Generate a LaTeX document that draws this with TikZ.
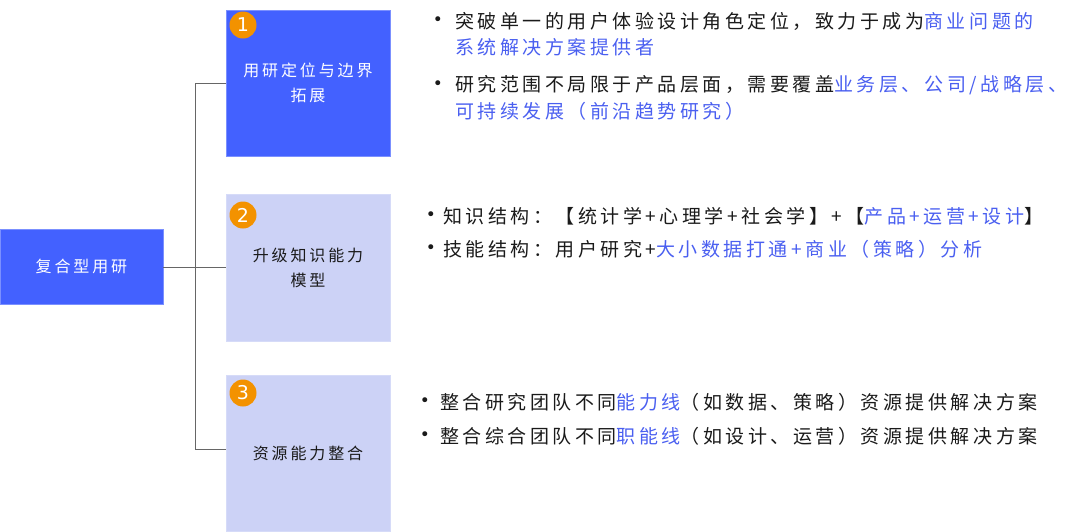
\documentclass[tikz,border=0pt]{standalone}
\usepackage{fontspec}
\setmainfont{Noto Sans CJK SC}
\newfontfamily\cjkbody[LetterSpace=18.5]{Noto Sans CJK SC}
\newfontfamily\cjkbox[LetterSpace=18]{Noto Sans CJK SC}
\newfontfamily\dejavu{DejaVu Sans}
\definecolor{boxblue}{HTML}{4361FF}
\definecolor{boxlight}{HTML}{CCD2F6}
\definecolor{badge}{HTML}{F39200}
\definecolor{txtblue}{HTML}{4A5FF0}
\definecolor{txtdark}{HTML}{1A1A1A}
\definecolor{conn}{HTML}{666666}
\tikzset{
  mainbox/.style={fill=boxblue, draw=boxblue!70!white, line width=0.6pt, inner sep=0pt, text=white, align=center, font=\cjkbox\fontsize{16pt}{25pt}\selectfont},
  lightbox/.style={fill=boxlight, draw=boxlight!80!white, line width=0.6pt, inner sep=0pt, text=txtdark, align=center, font=\cjkbox\fontsize{16pt}{25pt}\selectfont},
  numbadge/.style={circle, fill=badge, minimum size=27pt, inner sep=0pt, text=white, font=\dejavu\fontsize{19pt}{19pt}\selectfont},
  bodyline/.style={anchor=west, inner sep=0pt, text=txtdark, font=\cjkbody\fontsize{19pt}{22pt}\selectfont},
  dot/.style={anchor=center, inner sep=0pt, text=txtdark, font=\dejavu\fontsize{17pt}{17pt}\selectfont},
  connector/.style={draw=conn, line width=1pt},
}
\newcommand{\hb}[1]{\textcolor{txtblue}{#1}}
\begin{document}
\begin{tikzpicture}
\useasboundingbox (0pt,0pt) rectangle (1080pt,-531pt);
% boxes
\node[mainbox, minimum width=163pt, minimum height=75pt] (main) at (81.5pt,-266.5pt) {复合型用研};
\node[mainbox, minimum width=164pt, minimum height=146pt] (b1) at (308pt,-83pt) {用研定位与边界\\拓展};
\node[lightbox, minimum width=164pt, minimum height=147pt] (b2) at (308pt,-267.5pt) {升级知识能力\\模型};
\node[lightbox, minimum width=164pt, minimum height=156pt] (b3) at (308pt,-453pt) {资源能力整合};
% badges
\node[numbadge] (n1) at (243pt,-25pt) {1};
\node[numbadge] (n2) at (243pt,-215pt) {2};
\node[numbadge] (n3) at (243pt,-393pt) {3};
% connectors
\coordinate (j) at (195pt,-267pt);
\coordinate (e1) at (226pt,-83pt);
\coordinate (e3) at (226pt,-449pt);
\draw[connector] (main.east |- j) -- (b2.west |- j);
\draw[connector] (e1) -| (j);
\draw[connector] (e3) -| (j);
% section 1 text
\node[dot] (d1) at (438pt,-21pt) {•};
\node[bodyline] (t1a) at (455pt,-21pt) {突破单一的用户体验设计角色定位，致力于成为\hb{商业问题的}};
\node[bodyline] (t1b) at (455pt,-47pt) {\hb{系统解决方案提供者}};
\node[dot] (d2) at (438pt,-85pt) {•};
\node[bodyline] (t1c) at (455pt,-85pt) {研究范围不局限于产品层面，需要覆盖\hb{业务层、公司/战略层、}};
\node[bodyline] (t1d) at (455pt,-111pt) {\hb{可持续发展（前沿趋势研究）}};
% section 2 text
\node[dot] (d3) at (431pt,-216pt) {•};
\node[bodyline] (t2a) at (443pt,-216pt) {知识结构：【统计学+心理学+社会学】+【\hb{产品+运营+设计}】};
\node[dot] (d4) at (431pt,-249pt) {•};
\node[bodyline] (t2b) at (443pt,-249pt) {技能结构：用户研究+\hb{大小数据打通+商业（策略）分析}};
% section 3 text
\node[dot] (d5) at (425pt,-402pt) {•};
\node[bodyline] (t3a) at (440pt,-402pt) {整合研究团队不同\hb{能力线}（如数据、策略）资源提供解决方案};
\node[dot] (d6) at (425pt,-436pt) {•};
\node[bodyline] (t3b) at (440pt,-436pt) {整合综合团队不同\hb{职能线}（如设计、运营）资源提供解决方案};
\end{tikzpicture}
\end{document}
